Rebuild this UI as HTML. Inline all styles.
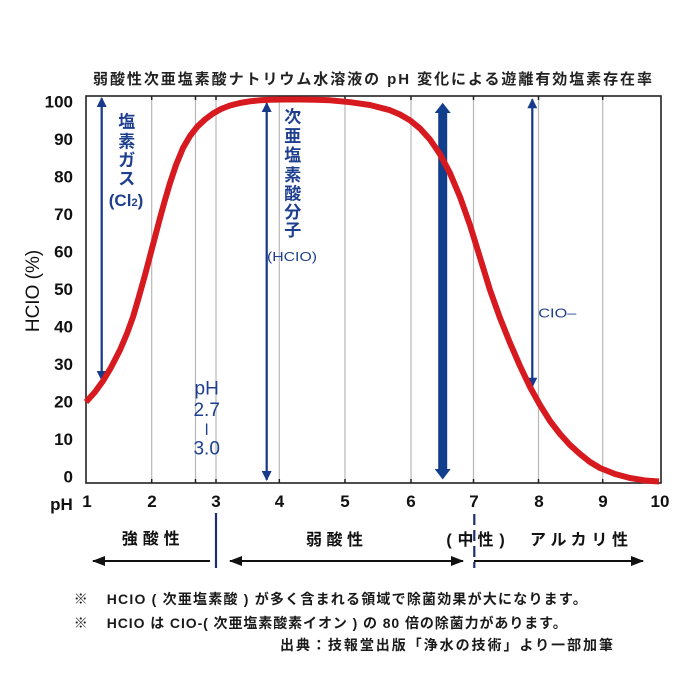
<!DOCTYPE html>
<html><head><meta charset="utf-8">
<style>
html,body{margin:0;padding:0;background:#fff;}
svg{display:block;}
.cjk{font-family:"Liberation Sans","Noto Sans CJK JP",sans-serif;}
</style></head>
<body>
<svg width="700" height="700" viewBox="0 0 700 700" xmlns="http://www.w3.org/2000/svg" class="cjk">
<defs>
<marker id="ah" markerWidth="10" markerHeight="10" refX="9" refY="5" orient="auto" markerUnits="userSpaceOnUse">
<path d="M0,0 L10,5 L0,10 Z" fill="#173a8a"/>
</marker>
<marker id="bh" markerWidth="13" markerHeight="10" refX="12" refY="5" orient="auto" markerUnits="userSpaceOnUse">
<path d="M0,0 L13,5 L0,10 Z" fill="#111"/>
</marker>
</defs>
<rect width="700" height="700" fill="#fff"/>

<!-- title -->
<text x="93" y="84" font-size="15" font-weight="bold" fill="#222" textLength="559" lengthAdjust="spacing">弱酸性次亜塩素酸ナトリウム水溶液の pH 変化による遊離有効塩素存在率</text>

<!-- grid -->
<g stroke="#b8b8b8" stroke-width="1.2">
<line x1="151.7" y1="96" x2="151.7" y2="483"/>
<line x1="195.5" y1="96" x2="195.5" y2="483"/>
<line x1="216" y1="96" x2="216" y2="483"/>
<line x1="279.3" y1="96" x2="279.3" y2="483"/>
<line x1="345" y1="96" x2="345" y2="483"/>
<line x1="411" y1="96" x2="411" y2="483"/>
<line x1="473.5" y1="96" x2="473.5" y2="483"/>
<line x1="538.5" y1="96" x2="538.5" y2="483"/>
<line x1="602.7" y1="96" x2="602.7" y2="483"/>
</g>
<g stroke="#222" stroke-width="1.5">
<path d="M151.7 96v4M195.5 96v4M216 96v4M279.3 96v4M345 96v4M411 96v4M473.5 96v4M538.5 96v4M602.7 96v4"/>
<path d="M151.7 483v-4M195.5 483v-4M216 483v-4M279.3 483v-4M345 483v-4M411 483v-4M473.5 483v-4M538.5 483v-4M602.7 483v-4"/>
</g>
<rect x="86" y="96" width="575" height="387" fill="none" stroke="#222" stroke-width="1.6"/>

<!-- y tick labels -->
<g font-family="Liberation Sans, sans-serif" font-size="17" font-weight="bold" fill="#111" text-anchor="end">
<text x="73" y="107.7">100</text>
<text x="73" y="145">90</text>
<text x="73" y="182.7">80</text>
<text x="73" y="220">70</text>
<text x="73" y="257.7">60</text>
<text x="73" y="295">50</text>
<text x="73" y="332.5">40</text>
<text x="73" y="370">30</text>
<text x="73" y="407.7">20</text>
<text x="73" y="445">10</text>
<text x="73" y="482.7">0</text>
</g>
<text transform="translate(39,291) rotate(-90)" font-family="Liberation Sans, sans-serif" font-size="19" fill="#111" text-anchor="middle">HCIO (%)</text>

<!-- x tick labels -->
<g font-family="Liberation Sans, sans-serif" font-size="17" font-weight="bold" fill="#111" text-anchor="middle">
<text x="87" y="507">1</text>
<text x="152" y="507">2</text>
<text x="216" y="507">3</text>
<text x="279.5" y="507">4</text>
<text x="345" y="507">5</text>
<text x="411" y="507">6</text>
<text x="474" y="507">7</text>
<text x="539" y="507">8</text>
<text x="603" y="507">9</text>
<text x="660" y="507">10</text>
<text x="61.5" y="510">pH</text>
</g>

<!-- arrows in plot -->
<g stroke="#173a8a" stroke-width="2" fill="none">
<line x1="101.7" y1="374" x2="101.7" y2="98" marker-end="url(#ah)"/>
<line x1="101.7" y1="104" x2="101.7" y2="380" marker-end="url(#ah)"/>
<line x1="266.7" y1="474" x2="266.7" y2="103" marker-end="url(#ah)"/>
<line x1="266.7" y1="109" x2="266.7" y2="480" marker-end="url(#ah)"/>
<line x1="532.3" y1="380" x2="532.3" y2="99.3" marker-end="url(#ah)"/>
<line x1="532.3" y1="105" x2="532.3" y2="386.7" marker-end="url(#ah)"/>
</g>
<!-- thick arrow -->
<rect x="438.2" y="111" width="9" height="360" fill="#123f8c"/>
<path d="M434.7 113 L442.7 102.7 L450.7 113 Z" fill="#123f8c"/>
<path d="M434.7 469 L442.7 479.5 L450.7 469 Z" fill="#123f8c"/>

<!-- curve -->
<polyline fill="none" stroke="#d61a1f" stroke-width="6" stroke-linejoin="round" stroke-linecap="butt"
points="86,402 95,392 103,381 111,367.5 120,350 127,333.5 133,317 139,296.5 145,275 150,256 155,237 160,218 165,200 170,183 176,165 183,148 190,136 197,127 205,119.5 213,113.5 221,109 230,105.5 240,103 250,101.3 260,100.3 270,99.8 285,99.5 300,99.5 315,99.7 330,100.3 350,102.2 370,105 390,110.2 400,114.5 410,120.3 420,128.5 430,139.5 440,154.2 450,173.2 460,196.9 470,225.1 480,257.5 490,290 500,318 510,343 520,366 530,387 540,405 550,421 560,434 570,445 580,454 590,462 600,468 615,474 630,478 645,480.5 659,481.5"/>

<!-- annotation text in plot -->
<g fill="#1e3f8f" font-size="17" font-weight="bold" text-anchor="middle">
<text x="126.7" y="127.7">塩</text>
<text x="126.7" y="147.7">素</text>
<text x="126.7" y="166">ガ</text>
<text x="126.7" y="184.3">ス</text>
<text x="126" y="206" font-family="Liberation Sans, sans-serif">(Cl<tspan font-size="11">2</tspan>)</text>
<text x="292.7" y="122.7">次</text>
<text x="292.7" y="142">亜</text>
<text x="292.7" y="161">塩</text>
<text x="292.7" y="181">素</text>
<text x="292.7" y="199.3">酸</text>
<text x="292.7" y="218">分</text>
<text x="292.7" y="236">子</text>
</g>
<text x="267" y="261" font-family="Liberation Sans, sans-serif" font-size="13" fill="#1e3f8f" textLength="50" lengthAdjust="spacingAndGlyphs">(HCIO)</text>
<text x="538.3" y="317.5" font-family="Liberation Sans, sans-serif" font-size="13" fill="#1e3f8f" textLength="38" lengthAdjust="spacingAndGlyphs">CIO–</text>
<g fill="#1e3f8f" font-family="Liberation Sans, sans-serif" font-size="19" text-anchor="middle">
<text x="206.7" y="394.5">pH</text>
<text x="206.7" y="416">2.7</text>
<text x="206.7" y="435" font-size="16">l</text>
<text x="206.7" y="454.5">3.0</text>
</g>

<!-- bottom region -->
<line x1="216" y1="513" x2="216" y2="568" stroke="#1b2f6e" stroke-width="2.2"/>
<line x1="474.3" y1="514" x2="474.3" y2="568" stroke="#1b2f6e" stroke-width="2.2" stroke-dasharray="11,5"/>
<g stroke="#111" stroke-width="2" fill="none">
<line x1="210" y1="561" x2="93" y2="561" marker-end="url(#bh)"/>
<line x1="240" y1="561" x2="463" y2="561" marker-end="url(#bh)"/>
<line x1="453" y1="561" x2="230" y2="561" marker-end="url(#bh)"/>
<line x1="474" y1="561" x2="643" y2="561" marker-end="url(#bh)"/>
</g>
<g fill="#111" font-size="16" font-weight="bold">
<text x="121.7" y="544" textLength="58" lengthAdjust="spacing">強酸性</text>
<text x="306" y="545" textLength="57" lengthAdjust="spacing">弱酸性</text>
<text x="449" y="545" text-anchor="middle">(</text>
<text x="465.5" y="545" text-anchor="middle">中</text>
<text x="485.5" y="545" text-anchor="middle">性</text>
<text x="502" y="545" text-anchor="middle">)</text>
<text x="530" y="545" textLength="98" lengthAdjust="spacing">アルカリ性</text>
</g>

<!-- footnotes -->
<g fill="#1a1a1a" font-size="14" font-weight="bold">
<text x="80.7" y="604" text-anchor="middle">※</text>
<text x="106.7" y="604" textLength="480" lengthAdjust="spacing">HCIO ( 次亜塩素酸 ) が多く含まれる領域で除菌効果が大になります。</text>
<text x="80.7" y="628" text-anchor="middle">※</text>
<text x="106.7" y="628" textLength="460" lengthAdjust="spacing">HCIO は CIO-( 次亜塩素酸素イオン ) の 80 倍の除菌力があります。</text>
<text x="280" y="650" textLength="333" lengthAdjust="spacing">出典：技報堂出版「浄水の技術」より一部加筆</text>
</g>
</svg>
</body></html>
